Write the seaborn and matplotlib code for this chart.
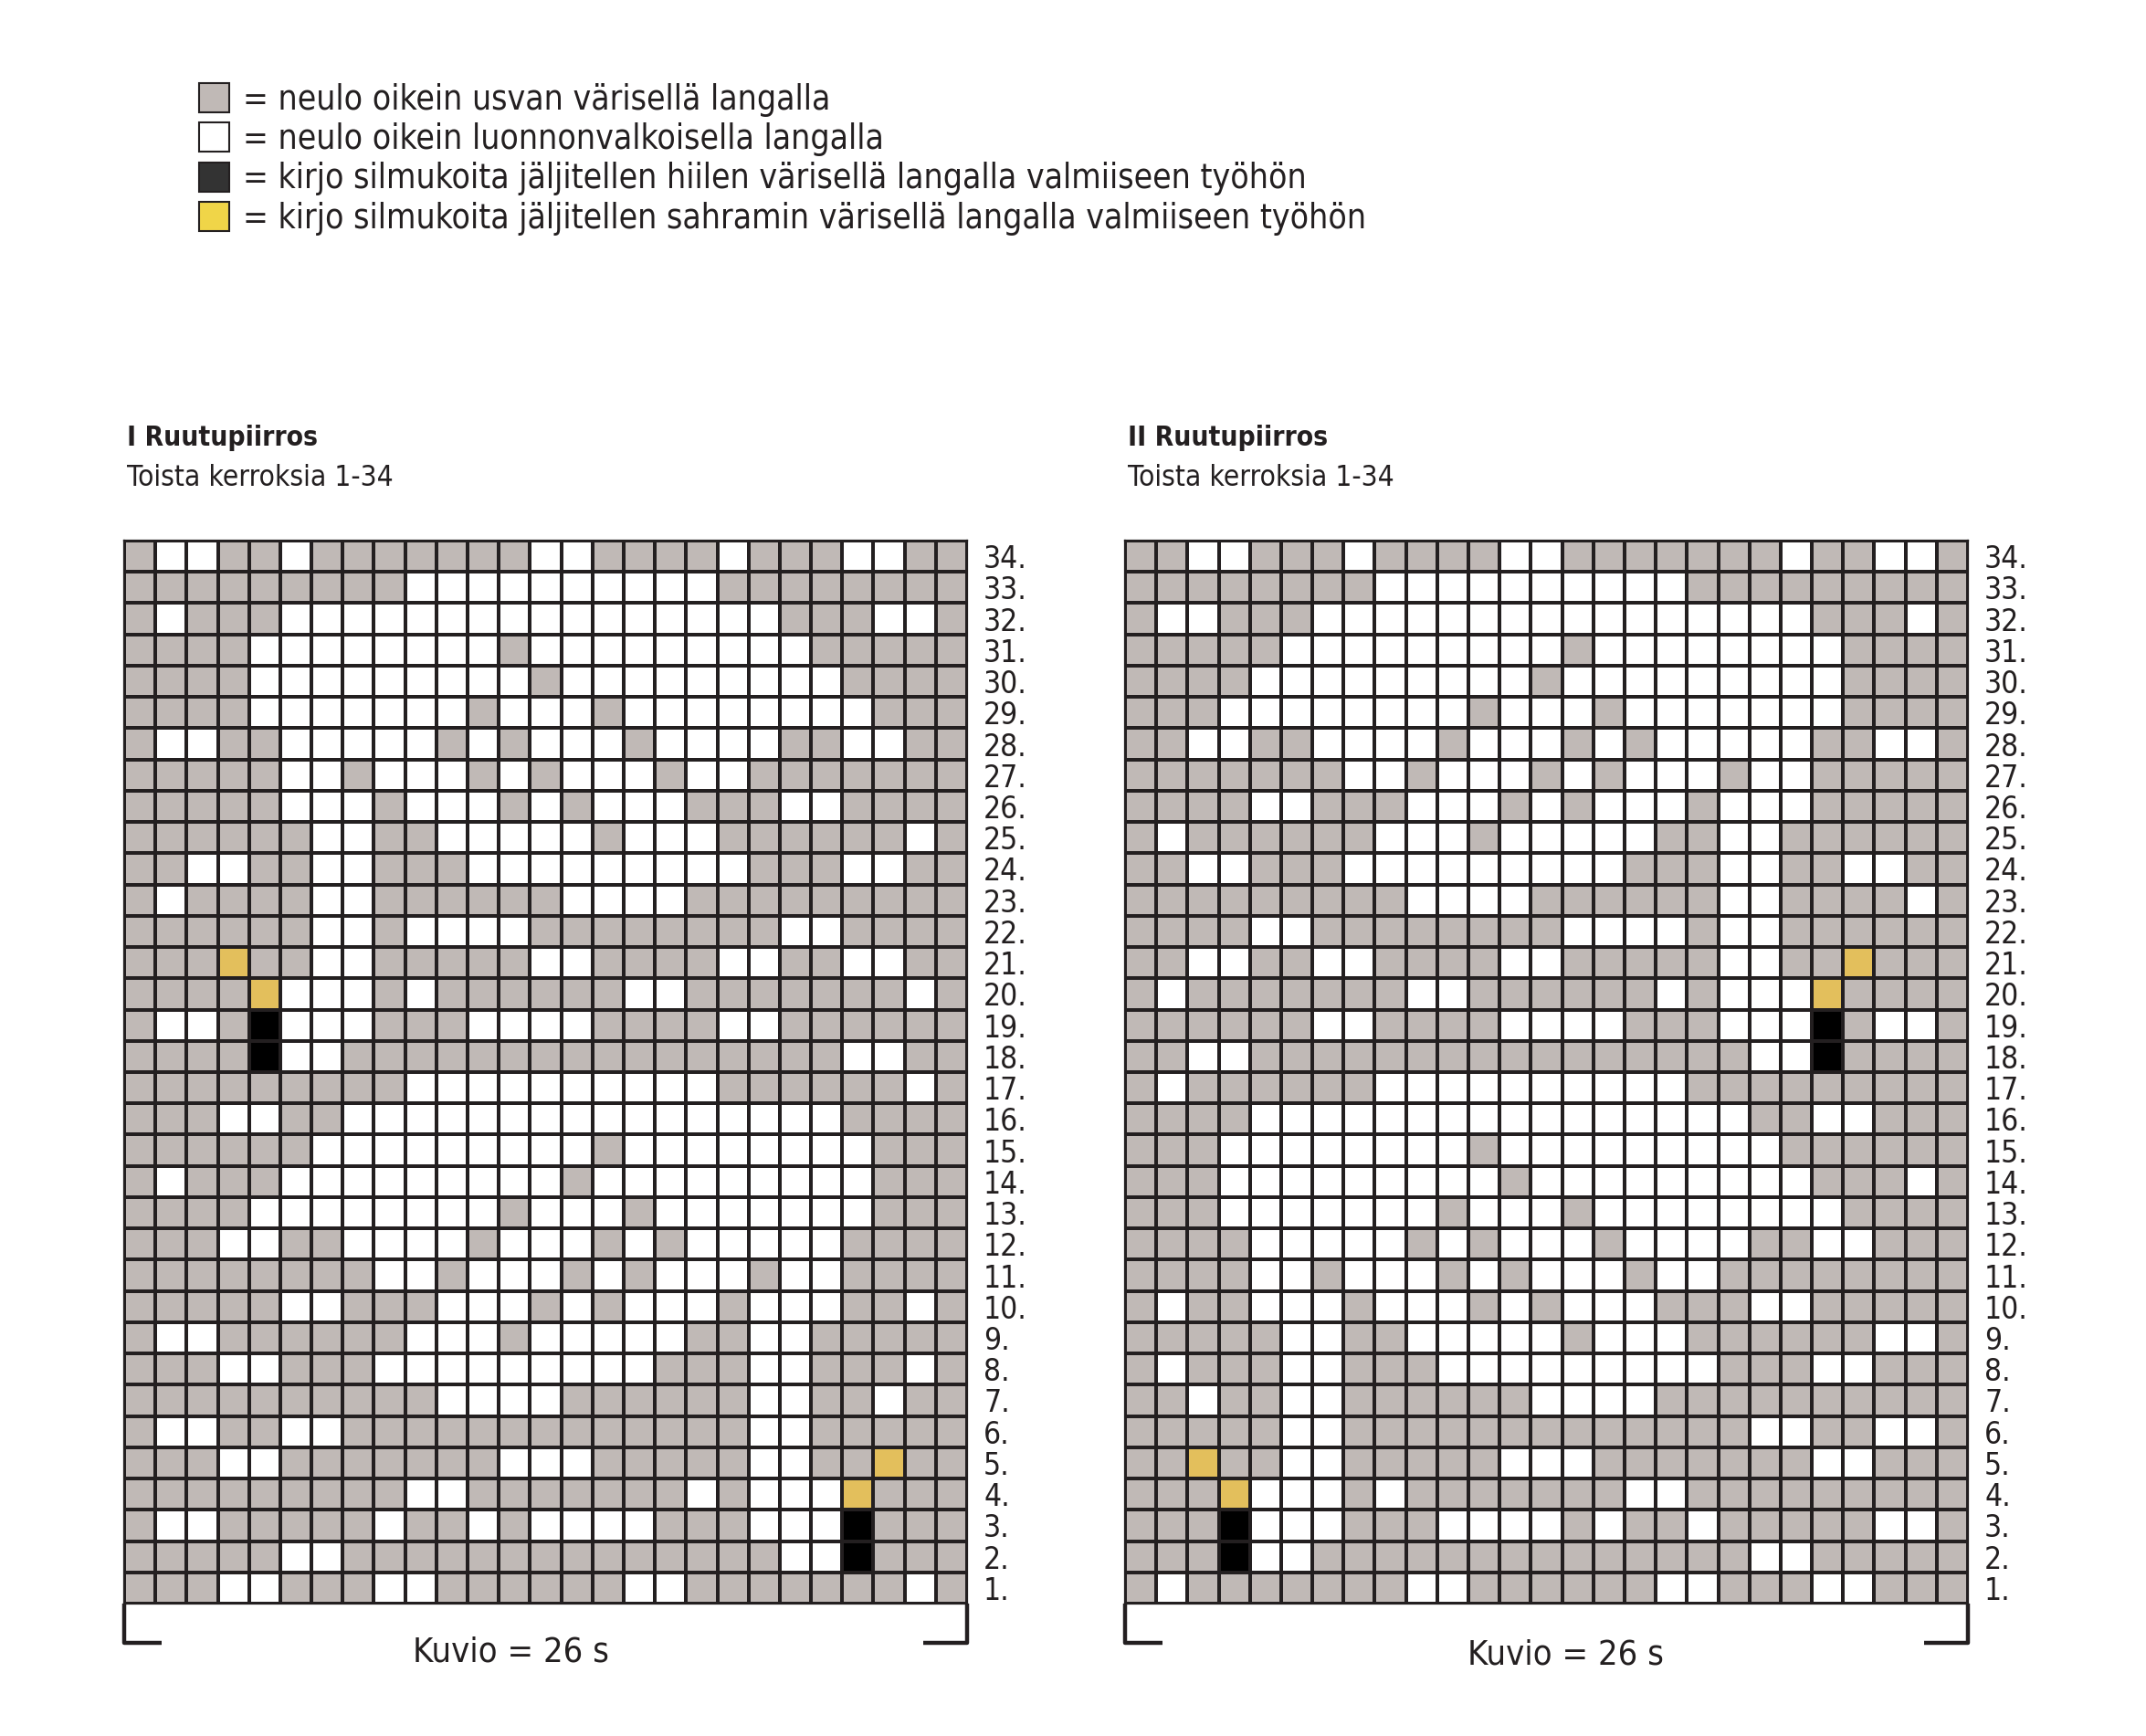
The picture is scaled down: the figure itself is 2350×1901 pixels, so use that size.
import pandas as pd
import seaborn as sns
import matplotlib.pyplot as plt
from matplotlib.colors import ListedColormap
from matplotlib.patches import Rectangle

# G = usva (harmaa), W = luonnonvalkoinen, B = hiili, Y = sahrami
# rivit ylhäältä alas: kerros 34 ... kerros 1
kerrokset = [f"{n}." for n in range(34, 0, -1)]

kaavio_1 = [
    "GWWGGWGGGGGGGWWGGGGWGGGWWGG",
    "GGGGGGGGGWWWWWWWWWWGGGGGGGG",
    "GWGGGWWWWWWWWWWWWWWWWGGGWWG",
    "GGGGWWWWWWWWGWWWWWWWWWGGGGG",
    "GGGGWWWWWWWWWGWWWWWWWWWGGGG",
    "GGGGWWWWWWWGWWWGWWWWWWWWGGG",
    "GWWGGWWWWWGWGWWWGWWWWGGWWGG",
    "GGGGGWWGWWWGWGWWWGWWGGGGGGG",
    "GGGGGWWWGWWWGWGWWWGGGWWGGGG",
    "GGGGGGWWGGWWWWWGWWWGGGGGGWG",
    "GGWWGGWWGGGWWWWWWWWWGGGWWGG",
    "GWGGGGWWGGGGGGWWWWGGGGGGGGG",
    "GGGGGGWWGWWWWGGGGGGGGWWGGGG",
    "GGGYGGWWGGGGGWWGGGGWWGGWWGG",
    "GGGGYWWWGWGGGGGGWWGGGGGGGWG",
    "GWWGBWWWGGGWWWWGGGGWWGGGGGG",
    "GGGGBWWGGGGGGGGGGGGGGGGWWGG",
    "GGGGGGGGGWWWWWWWWWWGGGGGGWG",
    "GGGWWGGWWWWWWWWWWWWWWWWGGGG",
    "GGGGGGWWWWWWWWWGWWWWWWWWGGG",
    "GWGGGWWWWWWWWWGWWWWWWWWWGGG",
    "GGGGWWWWWWWWGWWWGWWWWWWWGGG",
    "GGGWWGGWWWWGWWWGWGWWWWWGGGG",
    "GGGGGGGGWWGWWWGWGWWWGWWGGGG",
    "GGGGGWWGGGWWWGWGWWWGWWWGGWG",
    "GWWGGGGGGWWWGWWWWWGGWWGGGGG",
    "GGGWWGGGWWWWWWWWWGGGWWGGGWG",
    "GGGGGGGGGGWWWWGGGGGGWWGGWGG",
    "GWWGGWWGGGGGGGGGGGGGWWGGGGG",
    "GGGWWGGGGGGGWWWGGGGGWWGGYGG",
    "GGGGGGGGGWWGGGGGGGWGWWWYGGG",
    "GWWGGGGGWGGWGWWWWGGGWWWBGGG",
    "GGGGGWWGGGGGGGGGGGGGGWWBGGG",
    "GGGWWGGGWWGGGGGGWWGGGGGGGWG",
]

kaavio_2 = [
    "GGWWGGGWGGGGWWGGGGGGGWGGWWG",
    "GGGGGGGGWWWWWWWWWWGGGGGGGGG",
    "GWWGGGWWWWWWWWWWWWWWWWGGGWG",
    "GGGGGWWWWWWWWWGWWWWWWWWGGGG",
    "GGGGWWWWWWWWWGWWWWWWWWWGGGG",
    "GGGWWWWWWWWGWWWGWWWWWWWGGGG",
    "GGWWGGWWWWGWWWGWGWWWWWGGWWG",
    "GGGGGGGWWGWWWGWGWWWGWWGGGGG",
    "GGGGWWGGGWWWGWGWWWGWWWGGGGG",
    "GWGGGGGGWWWGWWWWWGGWWGGGGGG",
    "GGWWGGGWWWWWWWWWGGGWWGGWWGG",
    "GGGGGGGGGWWWWGGGGGGWWGGGGWG",
    "GGGGWWGGGGGGGGWWWWGWWGGGGGG",
    "GGWWGGWWGGGGWWGGGGGWWGGYGGG",
    "GWGGGGGGGWWGGGGGGWGWWWYGGGG",
    "GGGGGGWWGGGGWWWWGGGWWWBGWWG",
    "GGWWGGGGGGGGGGGGGGGGWWBGGGG",
    "GWGGGGGGWWWWWWWWWWGGGGGGGGG",
    "GGGGWWWWWWWWWWWWWWWWGGWWGGG",
    "GGGWWWWWWWWGWWWWWWWWWGGGGGG",
    "GGGWWWWWWWWWGWWWWWWWWWGGGWG",
    "GGGWWWWWWWGWWWGWWWWWWWWGGGG",
    "GGGGWWWWWGWGWWWGWWWWGGWWGGG",
    "GGGGWWGWWWGWGWWWGWWGGGGGGGG",
    "GWGGWWWGWWWGWGWWWGGGWWGGGGG",
    "GGGGGWWGGWWWWWGWWWGGGGGGWWG",
    "GWGGGWWGGGWWWWWWWWWGGGWWGGG",
    "GGWGGWWGGGGGGWWWWGGGGGGGGGG",
    "GGGGGWWGGGGGGGGGGGGGWWGGWWG",
    "GGYGGWWGGGGGWWWGGGGGGGWWGGG",
    "GGGYWWWGWGGGGGGGWWGGGGGGGGG",
    "GGGBWWWGGGWWWWGWGGWGGGGGWWG",
    "GGGBWWGGGGGGGGGGGGGGWWGGGGG",
    "GWGGGGGGGWWGGGGGGWWGGGWWGGG",
]

koodit = {"G": 0, "W": 1, "B": 2, "Y": 3}
ruutuvarit = ["#c0b9b6", "#ffffff", "#000000", "#e3bf5c"]

selite_varit = ["#c0b9b6", "#ffffff", "#333333", "#f0d548"]
selite_tekstit = [
    "= neulo oikein usvan värisellä langalla",
    "= neulo oikein luonnonvalkoisella langalla",
    "= kirjo silmukoita jäljitellen hiilen värisellä langalla valmiiseen työhön",
    "= kirjo silmukoita jäljitellen sahramin värisellä langalla valmiiseen työhön",
]

otsikot = ["I Ruutupiirros", "II Ruutupiirros"]
alaotsikko = "Toista kerroksia 1-34"
kuvio = "Kuvio = 26 s"


def taulukko(kaavio):
    data = [[koodit[c] for c in rivi] for rivi in kaavio]
    return pd.DataFrame(data, index=kerrokset, columns=range(1, 28))


sns.set_theme(style="white")
plt.rcParams["font.family"] = ["DejaVu Sans"]
plt.rcParams["font.stretch"] = "condensed"

W, H = 2350, 1901
fig = plt.figure(figsize=(23.5, 19.01), dpi=100)


def laatikko(x0, y0, x1, y1):
    return [x0 / W, 1 - y1 / H, (x1 - x0) / W, (y1 - y0) / H]


viiva = "#231f20"
cmap = ListedColormap(ruutuvarit)

# selite
for i, (vari, teksti) in enumerate(zip(selite_varit, selite_tekstit)):
    yc = 107 + i * 43.5
    fig.add_artist(Rectangle((218 / W, 1 - (yc + 16) / H), 33 / W, 32 / H,
                             transform=fig.transFigure, facecolor=vari,
                             edgecolor=viiva, linewidth=1.5))
    fig.text(266 / W, 1 - (yc + 2) / H, teksti, fontsize=26.7, va="center",
             ha="left", color=viiva)

# ruutupiirrokset
asetelmat = [(136, kaavio_1, 12.4, 35.55), (1232, kaavio_2, 14.1, 35.65)]
for (x0, kaavio, kx, ky), otsikko in zip(asetelmat, otsikot):
    fig.text((x0 + 3) / W, 1 - 480 / H, otsikko, fontsize=21.5,
             fontweight="bold", va="center", ha="left", color=viiva)
    fig.text((x0 + 3) / W, 1 - 523 / H, alaotsikko, fontsize=22.7,
             va="center", ha="left", color=viiva)

    ax = fig.add_axes(laatikko(x0, 592, x0 + 923, 1756))
    sns.heatmap(taulukko(kaavio), cmap=cmap, vmin=-0.5, vmax=3.5, cbar=False,
                linewidths=1.6, linecolor=viiva, xticklabels=False,
                yticklabels=True, ax=ax)
    ax.yaxis.tick_right()
    ax.tick_params(axis="y", length=0, pad=13, labelsize=24, labelcolor=viiva)
    plt.setp(ax.get_yticklabels(), rotation=0)
    ax.set_xlabel("")
    ax.set_ylabel("")
    for s in ax.spines.values():
        s.set_visible(True)
        s.set_color(viiva)
        s.set_linewidth(1.6)

    # hakasulku kuvion alla
    ax.plot([0, 0, 1.2], [34, 35.25, 35.25], color=viiva, lw=3.2,
            clip_on=False, scalex=False, scaley=False, solid_capstyle="butt")
    ax.plot([25.6, 27, 27], [35.25, 35.25, 34], color=viiva, lw=3.2,
            clip_on=False, scalex=False, scaley=False, solid_capstyle="butt")
    ax.text(kx, ky, kuvio, fontsize=27.3, ha="center", va="center", color=viiva)
    ax.set_xlim(0, 27)
    ax.set_ylim(34, 0)

fig.savefig("out.png", dpi=100, facecolor="white")
